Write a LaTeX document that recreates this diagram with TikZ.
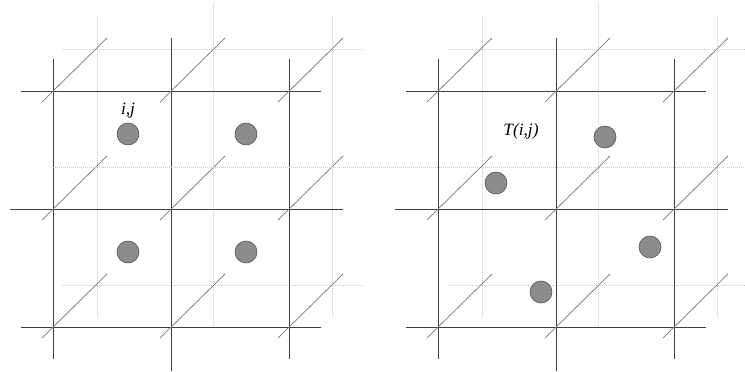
\documentclass[tikz,border=0pt]{standalone}
\usepackage{fontspec}
\setmainfont{Liberation Serif}
\usepackage{tikz}
\definecolor{lattice}{HTML}{404040}
\definecolor{depth}{HTML}{7A7A7A}
\definecolor{ghost}{HTML}{C8C8C8}
\definecolor{atomfill}{HTML}{8C8C8C}
\tikzset{
  fl/.style={draw=lattice, line width=0.65pt},                              % front lattice line
  bl/.style={draw=ghost, line width=0.75pt, dash pattern=on 0.75pt off 0.75pt}, % back lattice line
  dl/.style={draw=depth, line width=0.55pt},                                % depth link
  atm/.style={circle, draw=black!65, fill=atomfill, line width=0.5pt,
              minimum size=16.5pt, inner sep=0pt},
  lbl/.style={font=\fontsize{13}{15}\selectfont\itshape, inner sep=0pt},
}

\begin{document}
\begin{tikzpicture}[x=0.75pt, y=-0.75pt]
  \useasboundingbox (0,0) rectangle (745,371);
  \foreach \dx in {0,385} {
    \begin{scope}[shift={(\dx,0)}]
      % back lattice
      \foreach \x in {97,332} \draw[bl] (\x,16) -- (\x,318);
      \draw[bl] (213,3) -- (213,328);
      \foreach \y in {49,285} \draw[bl] (63,\y) -- (365,\y);
      % front lattice
      \foreach \x in {53,289} \draw[fl] (\x,59) -- (\x,359);
      \draw[fl] (171,38) -- (171,371);
      \foreach \y in {91,327} \draw[fl] (21,\y) -- (321,\y);
      \draw[fl] (10,209) -- (343,209);
      % depth links
      \foreach \x in {53,171,289}
        \foreach \y in {91,209,327}
          \draw[dl] (\x-11,\y+11) -- (\x+54,\y-53);
    \end{scope}
  }
  \draw[bl] (53,167) -- (386,167);
  \draw[bl] (373,167) -- (745,167);

  % regular sites
  \node[atm] (a11) at (128,134) {};
  \node[atm] (a12) at (246,134) {};
  \node[atm] (a21) at (128,252) {};
  \node[atm] (a22) at (246,252) {};
  \node[lbl] (lij) at (128,111) {i,j};

  % transformed sites
  \node[atm] (t11) at (605,137) {};
  \node[atm] (t12) at (496,183) {};
  \node[atm] (t21) at (650,247) {};
  \node[atm] (t22) at (541,292) {};
  \node[lbl] (ltij) at (521,131) {T(i,j)};
\end{tikzpicture}
\end{document}
